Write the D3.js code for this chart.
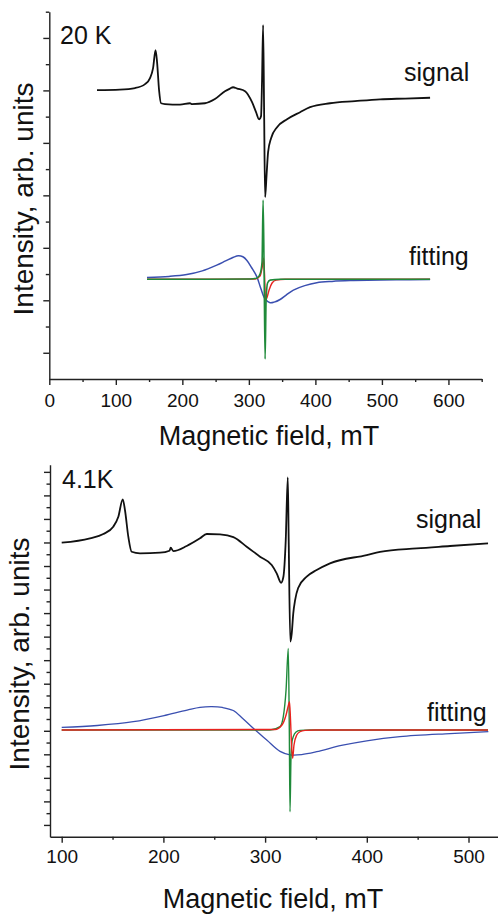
<!DOCTYPE html>
<html>
<head>
<meta charset="utf-8">
<script src="https://cdn.jsdelivr.net/npm/d3@7"></script>
<style>
  body { margin: 0; background: #fff; }
  svg { display: block; font-family: "Liberation Sans", Arial, sans-serif; }
</style>
</head>
<body>
<div id="chart"></div>
<script>
// ---- data: [field (mT), intensity (arb. units)] ----
const signal20K = [
  [71.7, 11.01], [106, 11.03], [129, 11.09], [144, 11.24], [151.4, 11.47], [156, 11.85],
  [159.7, 12.53], [162, 12.08], [165, 11.01], [168, 10.51], [174, 10.48], [196.5, 10.46],
  [211.5, 10.51], [214.6, 10.48], [234, 10.51], [249, 10.67], [264, 10.97], [271.7, 11.07],
  [276.2, 11.12], [282.3, 11.07], [294.3, 10.97], [304.8, 10.55], [310.8, 10.17], [315.3, 9.9],
  [318.3, 10.02], [319.8, 11.39], [321.4, 13.49], [322.9, 10.25], [324.4, 6.93], [326.6, 7.77],
  [328.9, 8.65], [333.4, 9.18], [342.4, 9.6], [357.4, 9.9], [377, 10.17], [392, 10.36],
  [422, 10.51], [459.6, 10.59], [497.2, 10.66], [534.8, 10.69], [572.4, 10.72]
];
const blue20K = [
  [146.9, 3.87], [180, 3.91], [206.6, 3.98], [230, 4.12], [251.7, 4.34], [265, 4.50],
  [276.7, 4.64], [284.2, 4.70], [291, 4.66], [296.8, 4.53], [304, 4.25], [311.9, 3.90],
  [318, 3.45], [324.4, 3.05], [331.9, 2.91], [338, 2.93], [346.9, 3.03], [356, 3.20],
  [366.9, 3.39], [384, 3.56], [402.1, 3.67], [425, 3.72], [452.2, 3.75], [522.4, 3.78],
  [572.4, 3.79]
];
const red20K = [
  [146.9, 3.80], [309.3, 3.81], [316.8, 3.92], [319.8, 4.23], [322.1, 4.61], [323.6, 3.96],
  [325.1, 3.01], [327.4, 3.12], [330.4, 3.39], [334.9, 3.66], [340.9, 3.77], [354.4, 3.80],
  [572.4, 3.80]
];
const green20K = [
  [146.9, 3.80], [301.8, 3.81], [312.3, 3.85], [316.8, 4.00], [319.8, 4.46], [321.4, 6.82],
  [322.9, 4.15], [324.4, 0.76], [325.9, 3.01], [328.1, 3.66], [331.9, 3.77], [346.9, 3.80],
  [572.4, 3.80]
];

const signal41K = [
  [100, 24.98], [127.8, 25.35], [140.9, 25.72], [150.7, 26.34], [155.7, 27.19], [160, 28.67],
  [162.2, 27.76], [165.5, 25.49], [168.8, 24.21], [177, 24.08], [196.7, 24.13], [206, 24.3],
  [207.2, 24.55], [209.7, 24.27], [222.9, 24.7], [236, 25.35], [242.6, 25.72], [255.7, 25.68],
  [268.8, 25.45], [281.9, 24.64], [295, 23.79], [306.5, 23.08], [311.4, 22.38], [315.7, 21.58],
  [318, 22.09], [320.3, 25.21], [322.3, 30.54], [323.2, 25.21], [324.8, 16.57], [326.2, 17.28],
  [327.7, 18.98], [329.5, 20.1], [332.5, 21.13], [340.9, 22.09], [350.7, 22.66], [363.8, 23.23],
  [399.9, 23.93], [413, 24.21], [449.1, 24.5], [481.8, 24.7], [519.2, 24.93]
];
const blue41K = [
  [100, 9.29], [135, 9.45], [170.4, 9.77], [203.2, 10.34], [225, 10.80], [236, 10.99],
  [247.5, 11.05], [258, 10.98], [268.7, 10.72], [278, 10.05], [288.4, 9.21], [301.6, 8.22],
  [314.7, 7.25], [324.5, 6.96], [336, 6.98], [350.7, 7.22], [375, 7.75], [399.9, 8.15],
  [432.6, 8.5], [481.8, 8.76], [519.5, 8.92]
];
const red41K = [
  [100, 9.07], [309.7, 9.11], [316.6, 9.49], [320.6, 10.34], [323, 11.19], [324, 11.47],
  [325, 9.92], [326, 7.79], [327.1, 6.66], [328.4, 7.79], [331.1, 8.64], [334.3, 8.92],
  [339.2, 9.03], [349.1, 9.07], [519.2, 9.07]
];
const green41K = [
  [100, 9.07], [304.8, 9.07], [314.7, 9.35], [317.9, 10.2], [320.6, 12.46], [322.8, 16.0],
  [323.8, 9.07], [324.5, 2.12], [325.4, 6.52], [326.4, 8.05], [327.7, 8.5], [330.4, 8.9],
  [334.3, 9.03], [344.1, 9.07], [519.2, 9.07]
];

const xTicks20K = [0, 100, 200, 300, 400, 500, 600];
const xMinor20K = [50, 150, 250, 350, 450, 550, 650];
const xTicks41K = [100, 200, 300, 400, 500];
const xMinor41K = [150, 250, 350, 450];
const yMajor20K = [1, 3, 5, 7, 9, 11, 13];
const yMinor20K = [2, 4, 6, 8, 10, 12, 14];
const yMajor41K = d3.range(1, 32, 2);
const yMinor41K = d3.range(2, 32, 2);

const colors = { signal: "#111", blue: "#3a4fb0", red: "#e8231f", green: "#1f8a3a" };

const width = 498, height = 914;
const svg = d3.select("#chart").append("svg")
  .attr("width", width)
  .attr("height", height);

function drawPanel(p) {
  const x = d3.scaleLinear().domain(p.xDomain).range(p.xRange);
  const y = d3.scaleLinear().domain(p.yDomain).range(p.yRange);
  const g = svg.append("g");

  // x axis
  const xAxis = g.append("g").attr("transform", `translate(0,${p.yRange[0]})`);
  xAxis.call(d3.axisBottom(x).tickValues(p.xTicks).tickSize(6).tickPadding(p.xPad).tickSizeOuter(0));
  xAxis.append("g").call(d3.axisBottom(x).tickValues(p.xMinor).tickSize(3).tickFormat("")).select(".domain").remove();
  xAxis.selectAll("text").attr("font-size", 19).attr("fill", "#111").attr("font-family", "Liberation Sans, Arial, sans-serif");

  // y axis
  const yAxis = g.append("g").attr("transform", `translate(${p.xRange[0]},0)`);
  yAxis.call(d3.axisLeft(y).tickValues(p.yMajor).tickSize(6).tickFormat("").tickSizeOuter(0));
  yAxis.append("g").call(d3.axisLeft(y).tickValues(p.yMinor).tickSize(3.5).tickFormat("")).select(".domain").remove();

  g.selectAll(".domain, .tick line").attr("stroke", "#222").attr("stroke-width", 1.4);

  const line = d3.line().x(d => x(d[0])).y(d => y(d[1])).curve(d3.curveMonotoneX);
  const smooth = d3.line().x(d => x(d[0])).y(d => y(d[1])).curve(d3.curveCatmullRom.alpha(0.5));

  p.series.forEach(s => {
    g.append("path")
      .datum(s.data)
      .attr("fill", "none")
      .attr("stroke", s.color)
      .attr("stroke-width", s.width)
      .attr("stroke-linejoin", "round")
      .attr("d", s.smooth ? smooth : line);
  });

  // labels
  g.append("text").attr("x", p.tempPos[0]).attr("y", p.tempPos[1])
    .attr("font-size", 25).attr("fill", "#111").text(p.temp);
  g.append("text").attr("x", p.signalPos[0]).attr("y", p.signalPos[1])
    .attr("font-size", 25).attr("fill", "#111").text("signal");
  g.append("text").attr("x", p.fitPos[0]).attr("y", p.fitPos[1])
    .attr("font-size", 25).attr("fill", "#111").text("fitting");

  g.append("text")
    .attr("x", p.xTitlePos[0]).attr("y", p.xTitlePos[1])
    .attr("text-anchor", "middle").attr("font-size", 27).attr("fill", "#111")
    .text("Magnetic field, mT");
  g.append("text")
    .attr("transform", `translate(${p.yTitlePos[0]},${p.yTitlePos[1]}) rotate(-90)`)
    .attr("text-anchor", "middle").attr("font-size", 28).attr("fill", "#111")
    .text("Intensity, arb. units");
}

drawPanel({
  xDomain: [0, 650], xRange: [49.3, 481.7],
  yDomain: [0, 14], yRange: [379, 11.7],
  xTicks: xTicks20K, xMinor: xMinor20K, yMajor: yMajor20K, yMinor: yMinor20K, xPad: 9,
  series: [
    { data: signal20K, color: colors.signal, width: 1.8 },
    { data: blue20K, color: colors.blue, width: 1.5, smooth: true },
    { data: red20K, color: colors.red, width: 1.4 },
    { data: green20K, color: colors.green, width: 1.6 }
  ],
  temp: "20 K", tempPos: [60, 44],
  signalPos: [404, 81], fitPos: [409, 265],
  xTitlePos: [269, 445], yTitlePos: [33, 199]
});

drawPanel({
  xDomain: [88.5, 529], xRange: [50, 498],
  yDomain: [0, 31.6], yRange: [836.7, 464.8],
  xTicks: xTicks41K, xMinor: xMinor41K, yMajor: yMajor41K, yMinor: yMinor41K, xPad: 7,
  series: [
    { data: signal41K, color: colors.signal, width: 1.8 },
    { data: blue41K, color: colors.blue, width: 1.3, smooth: true },
    { data: green41K, color: colors.green, width: 1.4 },
    { data: red41K, color: colors.red, width: 1.4 }
  ],
  temp: "4.1K", tempPos: [62, 488],
  signalPos: [416, 528], fitPos: [427, 721],
  xTitlePos: [273, 908], yTitlePos: [29, 654]
});
</script>
</body>
</html>
